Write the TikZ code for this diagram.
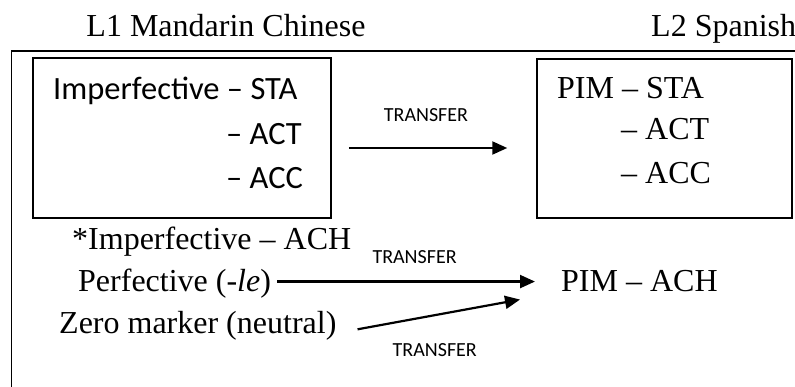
\documentclass[tikz,border=0pt]{standalone}
\usepackage{fontspec}
\setmainfont{Liberation Serif}
\newfontfamily\calibri{Carlito}
\usetikzlibrary{arrows.meta,positioning}

\begin{document}
\begin{tikzpicture}[
  x=1pt, y=-1pt,
  serif/.style={font=\fontsize{32}{38}\selectfont, inner sep=0pt},
  sans/.style={font=\calibri\fontsize{32.5}{39}\selectfont, inner sep=0pt},
  tlabel/.style={font=\calibri\fontsize{20}{24}\selectfont, inner sep=0pt},
  aspectbox/.style={draw, line width=1.5pt, inner sep=0pt},
  arrow/.style={-{Triangle[length=15pt,width=13pt]}, line width=2.2pt}
]
\useasboundingbox (0,0) rectangle (795,387);

% language headings
\node[serif, anchor=base] (l1) at (226,37) {L1 Mandarin Chinese};
\node[serif, anchor=base west] (l2) at (651,37) {L2 Spanish};

% outer frame, open at right and bottom
\draw[line width=1.6pt] (800,51) -- (11.5,51) -- (11.5,395);

% L1 box
\node[aspectbox, minimum width=298pt, minimum height=160pt] (lbox) at (182,138) {};
\node[sans, anchor=base west] (lsta) at (53,100) {Imperfective – STA};
\node[sans, anchor=base west] (lact) at (226,145) {– ACT};
\node[sans, anchor=base west] (lacc) at (226,189) {– ACC};

% L2 box
\node[aspectbox, minimum width=255pt, minimum height=159pt] (rbox) at (664.5,138.5) {};
\node[serif, anchor=base west] (rsta) at (557,99) {PIM – STA};
\node[serif, anchor=base west] (ract) at (621,140) {– ACT};
\node[serif, anchor=base west] (racc) at (621,184) {– ACC};

% achievements
\node[serif, anchor=base west] (imp) at (72,250) {*Imperfective – ACH};
\node[serif, anchor=base west] (perf) at (78,292) {Perfective (-\textit{le})};
\node[serif, anchor=base west] (zero) at (59,333) {Zero marker (neutral)};
\node[serif, anchor=base west] (pimach) at (561,292) {PIM – ACH};

% transfer arrows
\draw[arrow] ([xshift=17pt,yshift=-10pt]lbox.east) -- ([xshift=-29pt,yshift=-9.5pt]rbox.west)
  node[tlabel, midway, above=25pt, xshift=-2pt] (t1) {TRANSFER};
\draw[arrow] ([xshift=6pt]pimach.west -| perf.east) -- ([xshift=-26pt]pimach.west)
  node[tlabel, midway, above=16.5pt, xshift=8.5pt] (t2) {TRANSFER};
\draw[arrow] ([xshift=21pt,yshift=-4pt]zero.east) -- ([xshift=-41pt,yshift=-18pt]pimach.west)
  node[tlabel, midway, below=28pt, xshift=-4pt] (t3) {TRANSFER};
\end{tikzpicture}
\end{document}
